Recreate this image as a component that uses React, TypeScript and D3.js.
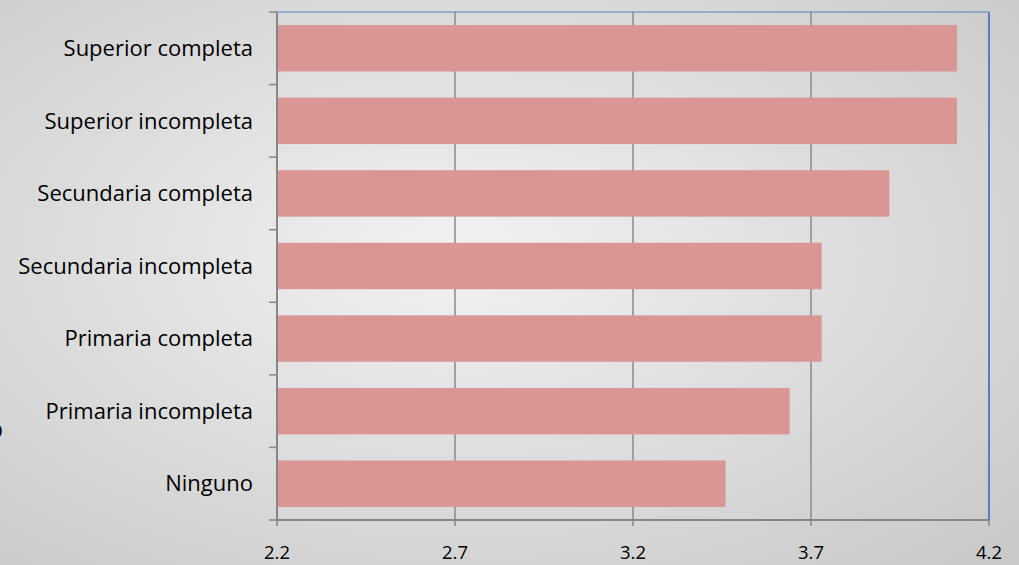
import { useMemo } from 'react';
import * as d3 from 'd3';

// Data
const categories = [
	'Superior completa',
	'Superior incompleta',
	'Secundaria completa',
	'Secundaria incompleta',
	'Primaria completa',
	'Primaria incompleta',
	'Ninguno',
];
const values = [4.11, 4.11, 3.92, 3.73, 3.73, 3.64, 3.46];
const xTicks = [2.2, 2.7, 3.2, 3.7, 4.2];

const W = 1019;
const H = 565;
const plot = { left: 277, right: 989, top: 12, bottom: 520 };
const FONT = '"Open Sans", "DejaVu Sans", sans-serif';

export default function App() {
	const x = useMemo(() => d3.scaleLinear().domain([2.2, 4.2]).range([plot.left, plot.right]), []);
	const y = useMemo(
		() => d3.scaleBand<string>().domain(categories).range([plot.top, plot.bottom]).paddingInner(0.36).paddingOuter(0.18),
		[]
	);
	const bandStep = (plot.bottom - plot.top) / categories.length;

	return (
		<svg width={W} height={H} style={{ position: 'absolute', left: 0, top: 0, display: 'block' }} fontFamily={FONT}>
			<defs>
				<radialGradient id="bg" cx="45%" cy="45%" r="75%">
					<stop offset="0%" stopColor="#f2f2f2" />
					<stop offset="100%" stopColor="#c9c9c9" />
				</radialGradient>
			</defs>
			<rect x={0} y={0} width={W} height={H} fill="url(#bg)" />

			{/* clipped title fragment at left edge */}
			<text x={-12} y={438} fontSize={25} fill="#000">o</text>

			{/* grid lines */}
			{xTicks.slice(1, -1).map((t) => (
				<line key={t} x1={x(t)} x2={x(t)} y1={plot.top} y2={plot.bottom} stroke="#8a8a8a" strokeWidth={1.5} />
			))}

			{/* bars */}
			{categories.map((c, i) => (
				<rect key={c} x={x(2.2)} y={y(c)} width={x(values[i]) - x(2.2)} height={y.bandwidth()} fill="#d99694" />
			))}

			{/* plot border (top/right) */}
			<line x1={plot.left} x2={plot.right} y1={plot.top} y2={plot.top} stroke="#4f81bd" strokeWidth={1} />
			<line x1={plot.right} x2={plot.right} y1={plot.top} y2={plot.bottom} stroke="#4f81bd" strokeWidth={2} />

			{/* y axis */}
			<line x1={plot.left} x2={plot.left} y1={plot.top} y2={plot.bottom + 1} stroke="#868686" strokeWidth={2} />
			{d3.range(categories.length + 1).map((i) => (
				<line key={i} x1={plot.left - 8} x2={plot.left} y1={plot.top + i * bandStep} y2={plot.top + i * bandStep} stroke="#868686" strokeWidth={1.5} />
			))}
			{categories.map((c) => (
				<text key={c} x={253} y={(y(c) ?? 0) + y.bandwidth() / 2} dy="0.35em" textAnchor="end" fontSize={22} fill="#000">
					{c}
				</text>
			))}

			{/* x axis */}
			<line x1={plot.left} x2={plot.right} y1={plot.bottom} y2={plot.bottom} stroke="#868686" strokeWidth={2} />
			{xTicks.map((t) => (
				<g key={t}>
					<line x1={x(t)} x2={x(t)} y1={plot.bottom} y2={plot.bottom + 6} stroke="#868686" strokeWidth={1.5} />
					<text x={x(t)} y={559} textAnchor="middle" fontSize={18.5} fill="#000">
						{d3.format('.1f')(t)}
					</text>
				</g>
			))}
		</svg>
	);
}
